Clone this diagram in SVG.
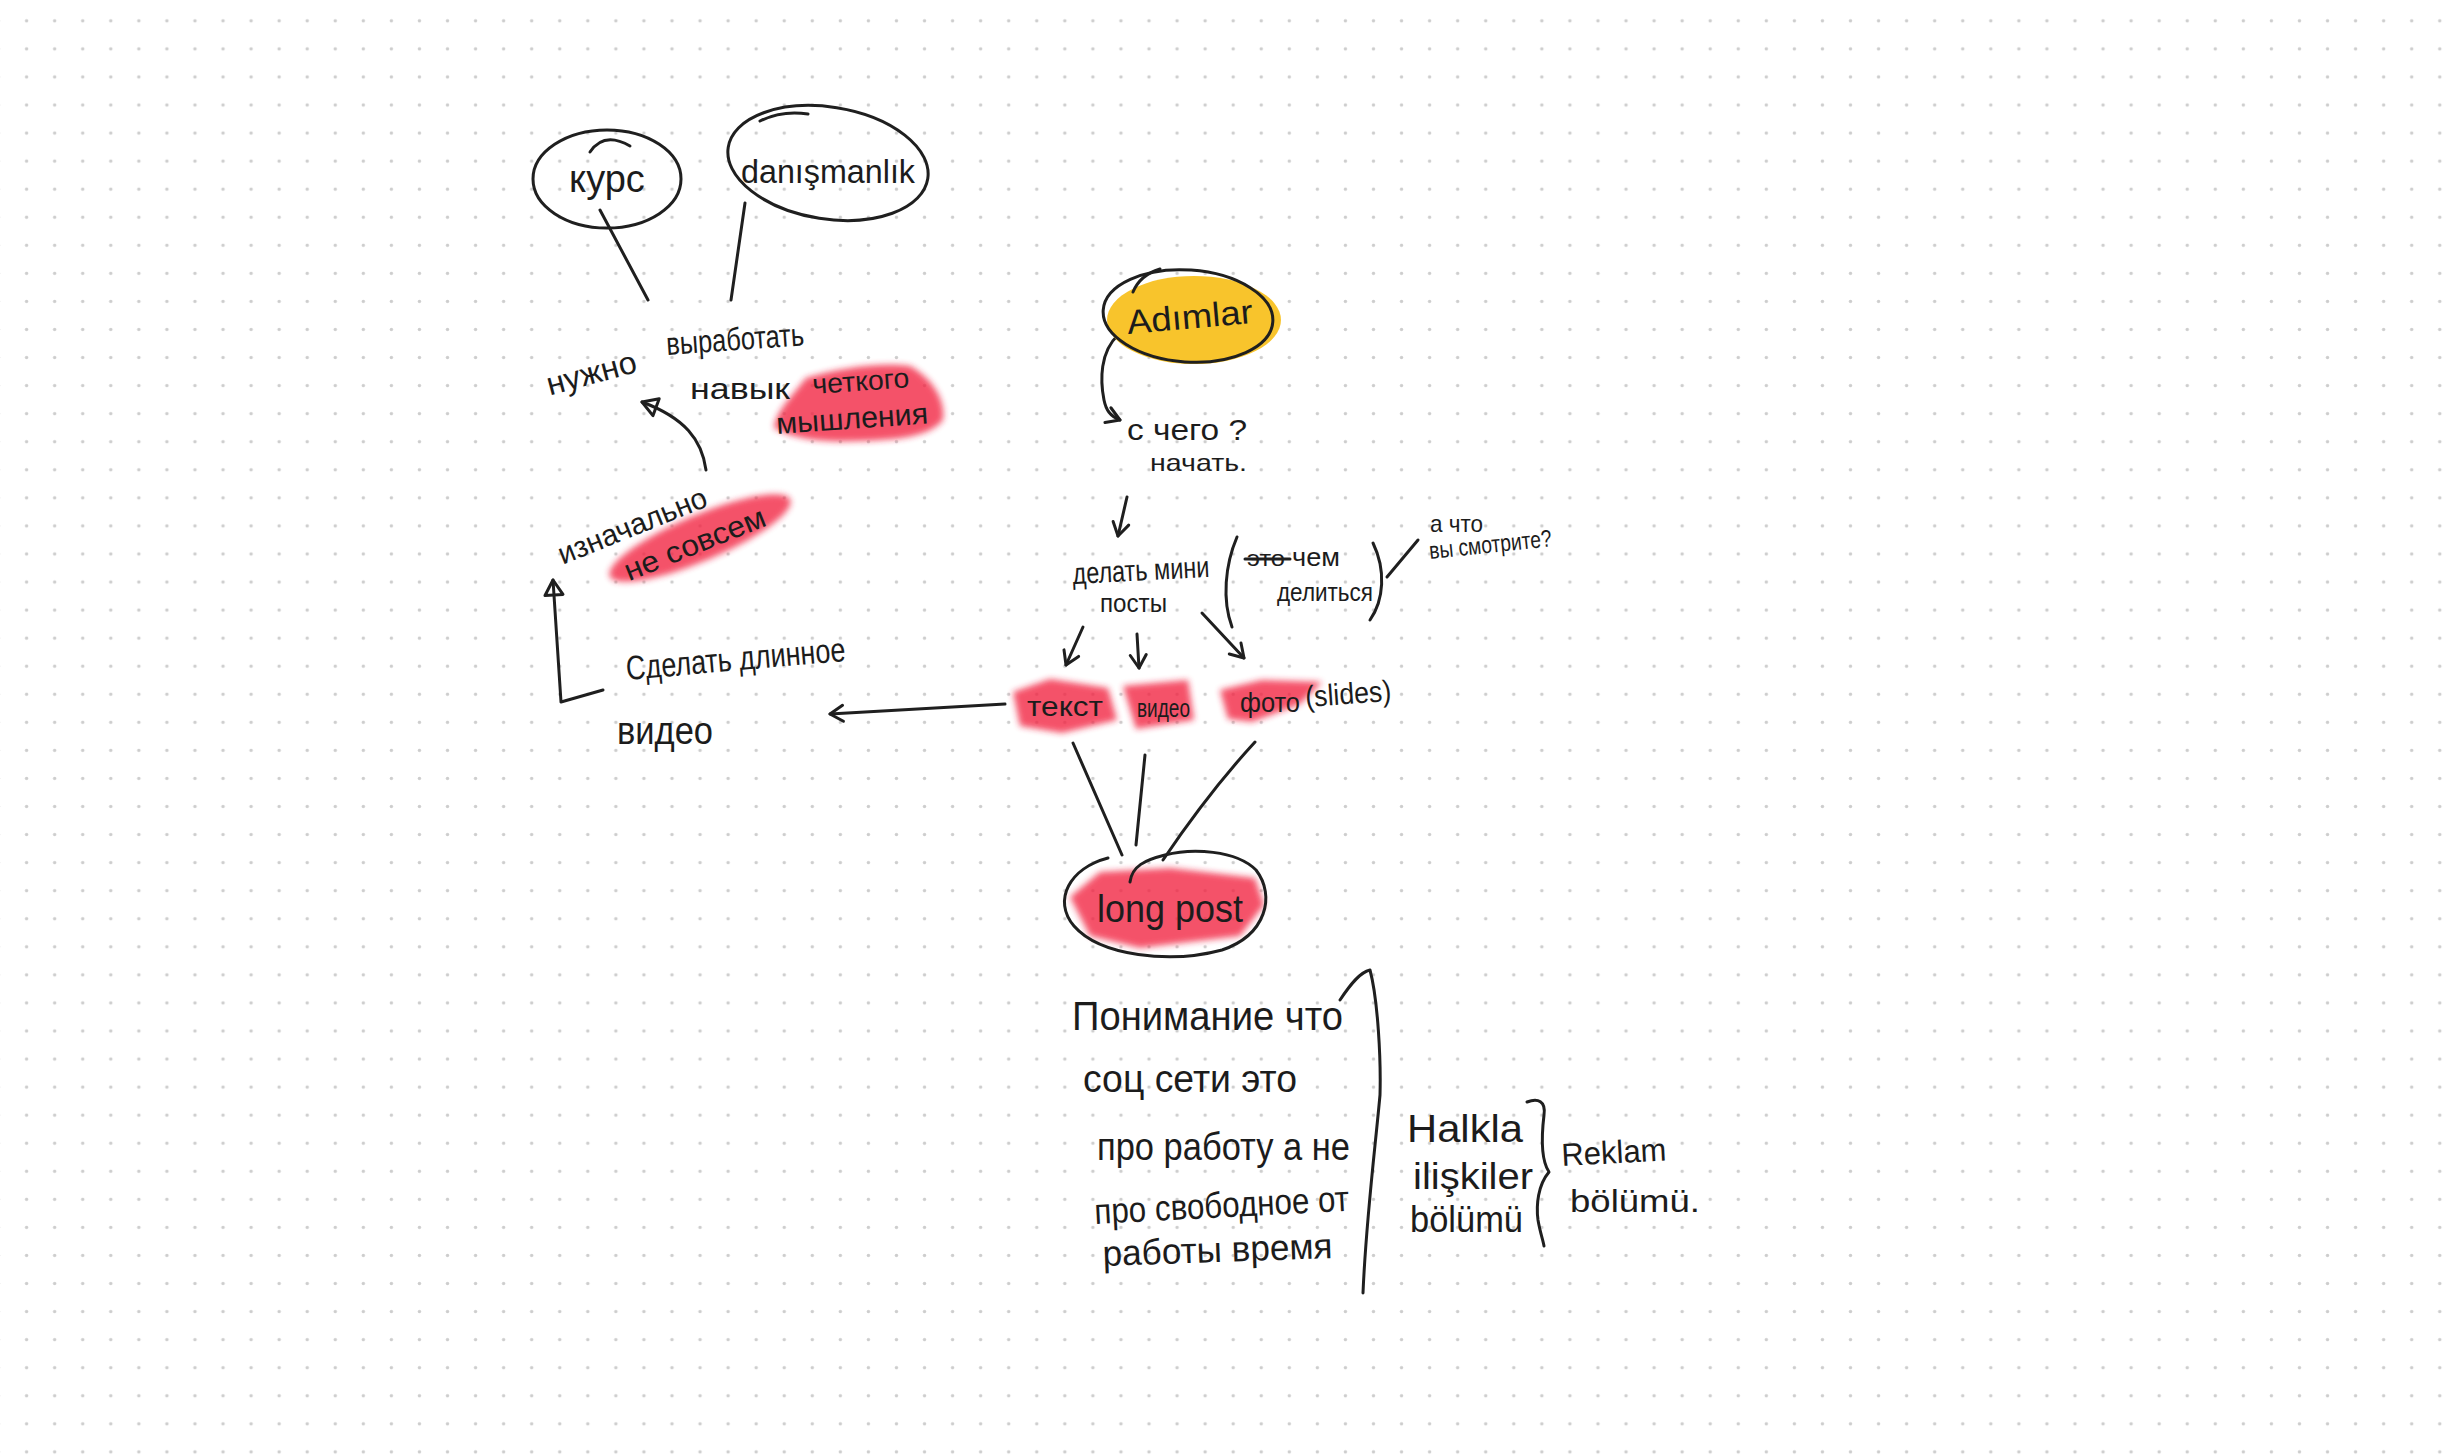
<svg xmlns="http://www.w3.org/2000/svg" width="2454" height="1456" viewBox="0 0 2454 1456">
<defs>
<pattern id="dots" x="12.6" y="6.8" width="28.06" height="28.06" patternUnits="userSpaceOnUse">
<circle cx="14" cy="14" r="1.7" fill="#cdcdcd"/>
</pattern>
<filter id="blur" x="-20%" y="-40%" width="140%" height="180%"><feGaussianBlur stdDeviation="3"/></filter>
<marker id="chev" viewBox="-16 -12 20 24" refX="0" refY="0" markerWidth="20" markerHeight="24" markerUnits="userSpaceOnUse" orient="auto">
<path d="M-13,-8 L0,0 L-13,8" fill="none" stroke="#1f1f1f" stroke-width="3" stroke-linecap="round" stroke-linejoin="round"/>
</marker>
<marker id="tri" viewBox="-18 -12 22 24" refX="0" refY="0" markerWidth="22" markerHeight="24" markerUnits="userSpaceOnUse" orient="auto">
<path d="M-15,-9 L0,0 L-15,9 Z" fill="none" stroke="#1f1f1f" stroke-width="3" stroke-linejoin="round"/>
</marker>
</defs>
<style>
.t{font-family:"Liberation Sans","Noto Sans",sans-serif;fill:#1c1c1c;}
.s{fill:none;stroke:#1f1f1f;stroke-width:3;stroke-linecap:round;stroke-linejoin:round;}
.hl{fill:#f2203f;opacity:0.78;filter:url(#blur);}
</style>
<rect width="2454" height="1456" fill="#ffffff"/>
<rect width="2454" height="1456" fill="url(#dots)"/>

<g id="connectors">
<path class="s" d="M600,210 L648,300"/>
<path class="s" d="M745,203 Q738,250 731,300"/>
<path class="s" d="M706,470 C702,440 685,418 642,402" marker-end="url(#tri)"/>
<path class="s" d="M603,690 L561,702 L553,580" marker-end="url(#tri)"/>
<path class="s" d="M1005,704 L830,714" marker-end="url(#chev)"/>
<path class="s" d="M1118,335 C1100,352 1100,380 1104,400 C1106,410 1110,416 1120,420" marker-end="url(#chev)"/>
<path class="s" d="M1127,497 L1118,536" marker-end="url(#chev)"/>
<path class="s" d="M1083,627 L1066,665" marker-end="url(#chev)"/>
<path class="s" d="M1137,634 L1139,668" marker-end="url(#chev)"/>
<path class="s" d="M1202,613 L1244,658" marker-end="url(#chev)"/>
<path class="s" d="M1387,577 L1418,540"/>
<path class="s" d="M1073,743 L1122,855"/>
<path class="s" d="M1145,755 L1136,845"/>
<path class="s" d="M1255,742 C1220,780 1190,820 1163,860"/>
</g>

<g id="node-kurs">
<ellipse class="s" cx="607" cy="179" rx="74" ry="49"/>
<path class="s" d="M590,152 Q604,131 630,146"/>
<text class="t" x="607" y="192" font-size="38" text-anchor="middle">курс</text>
</g>

<g id="node-danismanlik">
<ellipse class="s" cx="828" cy="163" rx="101" ry="56" transform="rotate(9 828 163)"/>
<path class="s" d="M760,121 Q782,110 808,114"/>
<text class="t" x="741" y="183" font-size="34" textLength="174" lengthAdjust="spacingAndGlyphs">danışmanlık</text>
</g>

<g id="node-nuzhno">
<path class="hl" d="M774,428 C776,412 790,398 806,378 C840,368 880,362 910,366 C932,378 946,400 943,420 C930,436 900,440 860,441 C830,442 800,442 774,428 Z"/>
<text class="t" x="591" y="384" font-size="32" text-anchor="middle" textLength="92" lengthAdjust="spacingAndGlyphs" transform="rotate(-15 591 372)">нужно</text>
<text class="t" x="667" y="355" font-size="32" textLength="138" lengthAdjust="spacingAndGlyphs" transform="rotate(-4 667 355)">выработать</text>
<text class="t" x="690" y="399" font-size="30" textLength="100" lengthAdjust="spacingAndGlyphs">навык</text>
<text class="t" x="813" y="394" font-size="28" textLength="97" lengthAdjust="spacingAndGlyphs" transform="rotate(-4 813 394)">четкого</text>
<text class="t" x="777" y="434" font-size="30" textLength="152" lengthAdjust="spacingAndGlyphs" transform="rotate(-4 777 434)">мышления</text>
</g>

<g id="node-iznachalno">
<ellipse class="hl" cx="700" cy="538" rx="98" ry="23" transform="rotate(-23 700 538)"/>
<text class="t" x="632" y="536" font-size="30" text-anchor="middle" textLength="158" lengthAdjust="spacingAndGlyphs" transform="rotate(-22 632 525)">изначально</text>
<text class="t" x="694" y="554" font-size="30" text-anchor="middle" textLength="150" lengthAdjust="spacingAndGlyphs" transform="rotate(-22 694 542)">не совсем</text>
</g>

<g id="node-video-long">
<text class="t" x="627" y="680" font-size="34" textLength="220" lengthAdjust="spacingAndGlyphs" transform="rotate(-5 627 680)">Сделать длинное</text>
<text class="t" x="617" y="744" font-size="38" textLength="96" lengthAdjust="spacingAndGlyphs">видео</text>
</g>

<g id="node-adimlar">
<ellipse cx="1194" cy="320" rx="87" ry="44" fill="#f8c42c"/>
<ellipse class="s" cx="1188" cy="316" rx="85" ry="46" transform="rotate(4 1188 316)"/>
<path class="s" d="M1133,292 Q1140,275 1160,269"/>
<text class="t" x="1128" y="334" font-size="34" textLength="126" lengthAdjust="spacingAndGlyphs" transform="rotate(-5 1128 334)">Adımlar</text>
</g>

<g id="node-s-chego">
<text class="t" x="1127" y="440" font-size="30" textLength="120" lengthAdjust="spacingAndGlyphs">с чего ?</text>
<text class="t" x="1150" y="471" font-size="24" textLength="97" lengthAdjust="spacingAndGlyphs">начать.</text>
</g>

<g id="node-mini-posty">
<text class="t" x="1073" y="584" font-size="30" textLength="137" lengthAdjust="spacingAndGlyphs" transform="rotate(-3 1073 584)">делать мини</text>
<text class="t" x="1100" y="612" font-size="26" textLength="67" lengthAdjust="spacingAndGlyphs">посты</text>
<path class="s" d="M1237,537 C1225,565 1222,600 1232,627"/>
<text class="t" x="1247" y="566" font-size="22" textLength="38" lengthAdjust="spacingAndGlyphs">это</text>
<path class="s" d="M1245,559 L1290,559" stroke-width="4"/>
<text class="t" x="1292" y="566" font-size="26" textLength="48" lengthAdjust="spacingAndGlyphs">чем</text>
<text class="t" x="1277" y="601" font-size="26" textLength="96" lengthAdjust="spacingAndGlyphs">делиться</text>
<path class="s" d="M1373,543 C1386,570 1384,600 1370,620"/>
</g>

<g id="node-a-chto">
<text class="t" x="1430" y="532" font-size="24" textLength="53" lengthAdjust="spacingAndGlyphs">а что</text>
<text class="t" x="1430" y="559" font-size="24" textLength="123" lengthAdjust="spacingAndGlyphs" transform="rotate(-6 1430 559)">вы смотрите?</text>
</g>

<g id="node-tekst">
<path class="hl" d="M1013,692 L1050,679 L1108,688 L1117,720 L1062,733 L1020,726 Z"/>
<text class="t" x="1027" y="716" font-size="28" textLength="76" lengthAdjust="spacingAndGlyphs">текст</text>
</g>

<g id="node-video">
<path class="hl" d="M1123,686 L1188,680 L1194,720 L1136,729 Z"/>
<text class="t" x="1137" y="717" font-size="26" textLength="53" lengthAdjust="spacingAndGlyphs">видео</text>
</g>

<g id="node-foto">
<path class="hl" d="M1220,690 L1262,680 L1322,682 L1300,704 L1252,722 L1228,719 Z"/>
<text class="t" x="1240" y="712" font-size="28" textLength="60" lengthAdjust="spacingAndGlyphs">фото</text>
<text class="t" x="1306" y="707" font-size="30" textLength="86" lengthAdjust="spacingAndGlyphs" transform="rotate(-4 1306 707)">(slides)</text>
</g>

<g id="node-long-post">
<path class="hl" d="M1070,897 L1100,872 L1170,868 L1255,878 L1264,905 L1240,936 L1140,948 L1090,936 Z"/>
<path class="s" d="M1108,858 C1070,868 1052,900 1074,926 C1100,956 1170,964 1222,950 C1266,935 1276,896 1256,870 C1236,850 1192,848 1165,855 C1145,860 1132,866 1130,882"/>
<text class="t" x="1097" y="922" font-size="38" textLength="146" lengthAdjust="spacingAndGlyphs">long post</text>
</g>

<g id="node-ponimanie">
<text class="t" x="1072" y="1030" font-size="40" textLength="271" lengthAdjust="spacingAndGlyphs">Понимание что</text>
<text class="t" x="1083" y="1092" font-size="38" textLength="214" lengthAdjust="spacingAndGlyphs">соц сети это</text>
<text class="t" x="1097" y="1160" font-size="38" textLength="253" lengthAdjust="spacingAndGlyphs">про работу а не</text>
<text class="t" x="1095" y="1224" font-size="36" textLength="255" lengthAdjust="spacingAndGlyphs" transform="rotate(-3 1095 1224)">про свободное от</text>
<text class="t" x="1103" y="1266" font-size="36" textLength="230" lengthAdjust="spacingAndGlyphs" transform="rotate(-2 1103 1266)">работы время</text>
<path class="s" d="M1340,1000 C1350,985 1360,972 1370,970 C1378,1000 1381,1060 1380,1095 C1375,1150 1366,1220 1363,1293"/>
</g>

<g id="node-halkla">
<text class="t" x="1407" y="1142" font-size="38" textLength="116" lengthAdjust="spacingAndGlyphs">Halkla</text>
<text class="t" x="1413" y="1189" font-size="36" textLength="120" lengthAdjust="spacingAndGlyphs">ilişkiler</text>
<text class="t" x="1410" y="1232" font-size="36" textLength="113" lengthAdjust="spacingAndGlyphs">bölümü</text>
<path class="s" d="M1527,1102 C1538,1098 1546,1101 1544,1115 C1541,1140 1541,1160 1549,1172 C1538,1185 1536,1205 1538,1220 C1540,1232 1543,1240 1544,1246"/>
</g>

<g id="node-reklam">
<text class="t" x="1562" y="1166" font-size="32" textLength="105" lengthAdjust="spacingAndGlyphs" transform="rotate(-3 1562 1166)">Reklam</text>
<text class="t" x="1570" y="1212" font-size="32" textLength="130" lengthAdjust="spacingAndGlyphs">bölümü.</text>
</g>
</svg>
